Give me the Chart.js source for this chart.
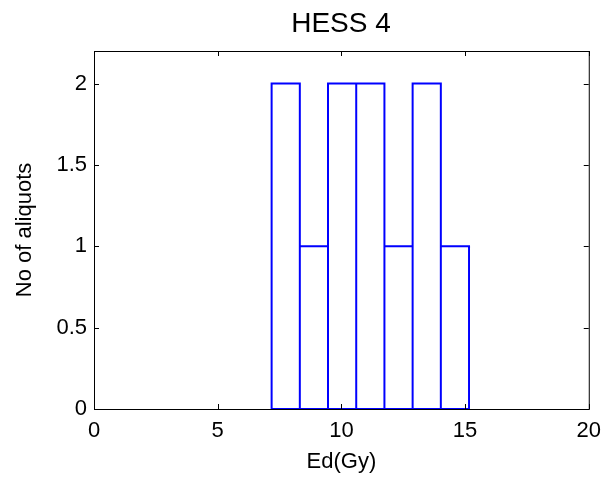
<!DOCTYPE html>
<html>
<head>
<meta charset="utf-8">
<style>
  html, body { margin: 0; padding: 0; background: #fff; }
</style>
</head>
<body>
<canvas id="myChart" width="610" height="479"></canvas>

<script src="https://cdn.jsdelivr.net/npm/chart.js"></script>
<script>
// histogram bins (Gy) and counts
const binEdges = [7.18, 8.32, 9.46, 10.6, 11.74, 12.88, 14.02, 15.16];
const counts = [2, 1, 2, 2, 1, 2, 1];
const xTicks = [0, 5, 10, 15, 20];
const yTicks = [0, 0.5, 1, 1.5, 2];

// outline of each bar as a closed step path, broken by nulls
const outline = [];
counts.forEach((c, i) => {
    const a = binEdges[i], b = binEdges[i + 1];
    outline.push({x: a, y: 0}, {x: a, y: c}, {x: b, y: c}, {x: b, y: 0}, {x: a, y: 0});
    outline.push({x: b, y: null});
});

const FONT = 'Arial, "Liberation Sans", Helvetica, sans-serif';

// MATLAB style box with inward ticks + title
const boxPlugin = {
    id: 'box',
    afterDraw(chart) {
        const {ctx, chartArea: a, scales: {x, y}} = chart;
        ctx.save();
        ctx.strokeStyle = '#000';
        ctx.lineWidth = 1;
        ctx.strokeRect(a.left + 0.5, a.top + 0.5, a.right - a.left, a.bottom - a.top);
        ctx.beginPath();
        const len = 5;
        xTicks.forEach(v => {
            const px = Math.round(x.getPixelForValue(v)) + 0.5;
            ctx.moveTo(px, a.bottom); ctx.lineTo(px, a.bottom - len);
            ctx.moveTo(px, a.top); ctx.lineTo(px, a.top + len);
        });
        yTicks.forEach(v => {
            const py = Math.round(y.getPixelForValue(v)) + 0.5;
            ctx.moveTo(a.left, py); ctx.lineTo(a.left + len, py);
            ctx.moveTo(a.right, py); ctx.lineTo(a.right - len, py);
        });
        ctx.stroke();
        ctx.fillStyle = '#000';
        ctx.font = '28px ' + FONT;
        ctx.textAlign = 'center';
        ctx.textBaseline = 'middle';
        ctx.fillText('HESS 4', 341, 24);
        ctx.restore();
    }
};

const ctx = document.getElementById('myChart');
new Chart(ctx, {
    type: 'line',
    data: {
        datasets: [{
            data: outline,
            borderColor: '#0000ff',
            borderWidth: 2,
            pointRadius: 0,
            tension: 0,
            spanGaps: false,
            fill: false
        }]
    },
    options: {
        responsive: false,
        animation: false,
        layout: {padding: {top: 51, right: 17, left: 0, bottom: 0}},
        plugins: {legend: {display: false}, tooltip: {enabled: false}},
        scales: {
            x: {
                type: 'linear', min: 0, max: 20,
                afterBuildTicks: s => { s.ticks = xTicks.map(v => ({value: v})); },
                afterFit: s => { s.height = 70; },
                grid: {display: false, drawTicks: false},
                border: {display: false},
                ticks: {color: '#000', padding: 9, maxRotation: 0, font: {family: FONT, size: 22},
                        callback: v => String(v)},
                title: {display: true, text: 'Ed(Gy)', color: '#000', font: {family: FONT, size: 22}, padding: {top: 0, bottom: 4}}
            },
            y: {
                type: 'linear', min: 0, max: 2.2,
                afterBuildTicks: s => { s.ticks = yTicks.map(v => ({value: v})); },
                afterFit: s => { s.width = 94; },
                grid: {display: false, drawTicks: false},
                border: {display: false},
                ticks: {color: '#000', padding: 7, font: {family: FONT, size: 22},
                        callback: v => String(v)},
                title: {display: true, text: 'No of aliquots', color: '#000', font: {family: FONT, size: 22}, padding: {top: 12, bottom: 0}}
            }
        }
    },
    plugins: [boxPlugin]
});
</script>
</body>
</html>
